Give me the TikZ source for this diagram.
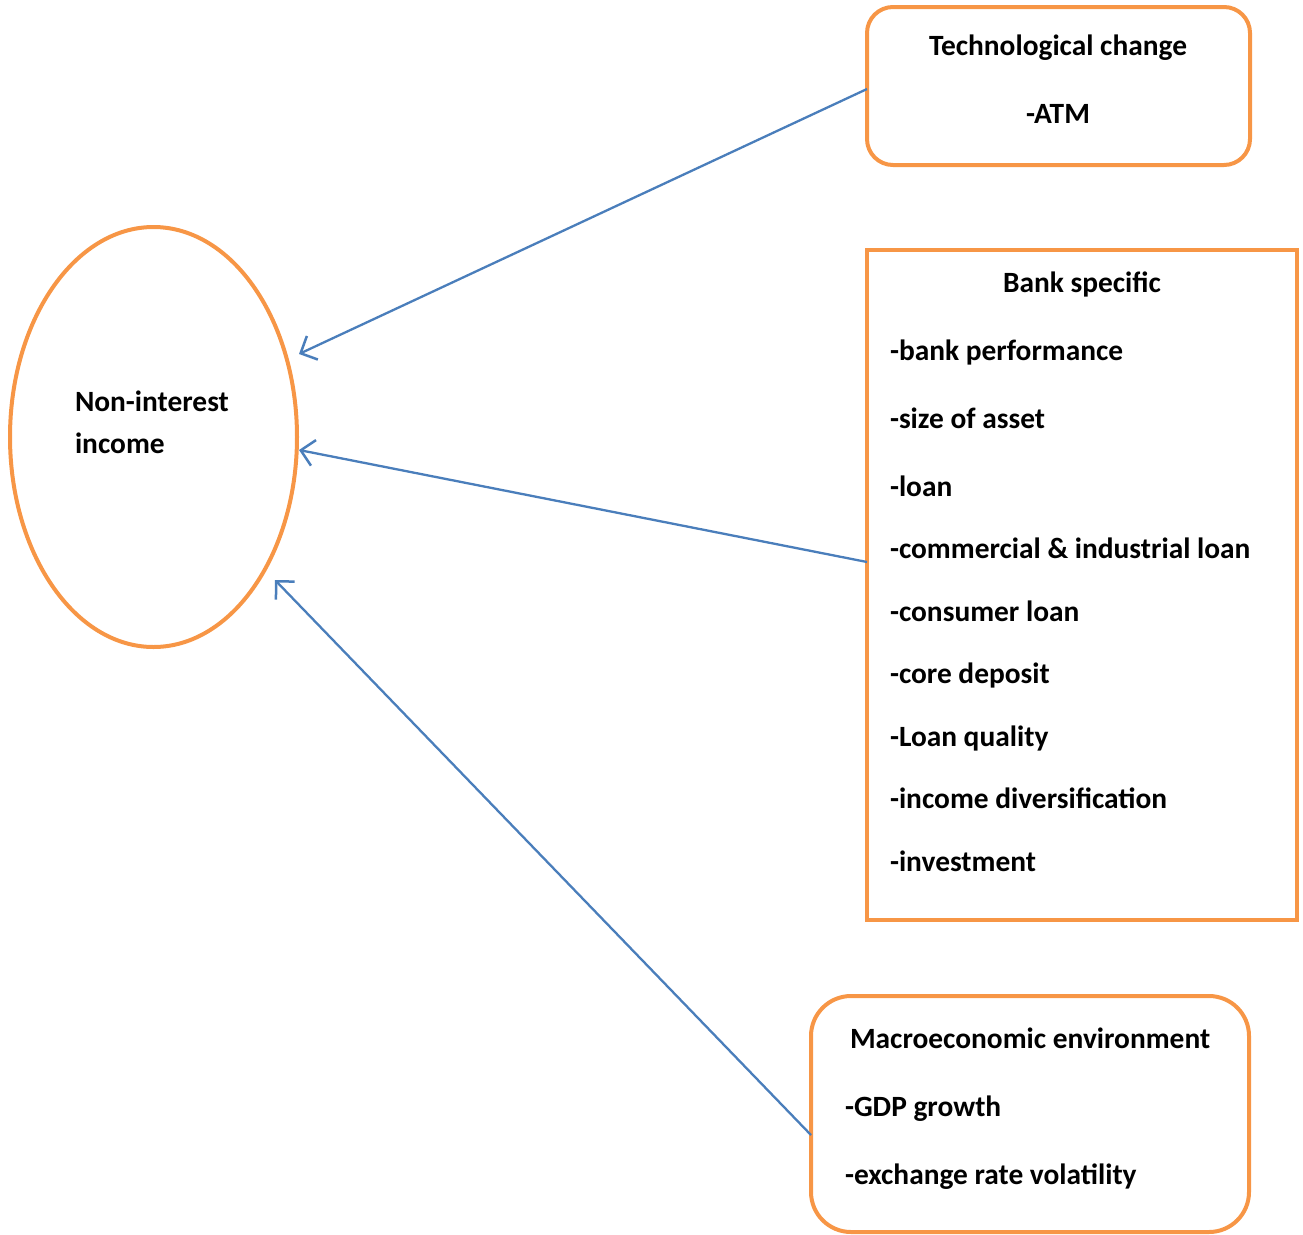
\documentclass[tikz,border=0pt]{standalone}
\usepackage{fontspec}
\setmainfont{Carlito}
\usetikzlibrary{shapes.geometric,arrows.meta}
\definecolor{boxorange}{HTML}{F79646}
\definecolor{arrowblue}{HTML}{4A7EBB}
\begin{document}
\begin{tikzpicture}[x=1pt,y=-1pt,
  frame/.style={draw=boxorange,line width=4pt,inner sep=0pt,outer sep=0pt},
  txt/.style={inner sep=0pt,outer sep=0pt,font=\bfseries\fontsize{29.4}{35}\selectfont},
  link/.style={draw=arrowblue,line width=2.3pt,-{Straight Barb[length=13pt,width=26pt,line width=2.5pt]}}]
\useasboundingbox (0,0) rectangle (1303,1234);
% shapes
\node[frame,ellipse,minimum width=287pt,minimum height=420pt] (nii) at (153.5,437) {};
\node[frame,rectangle,rounded corners=26pt,minimum width=383pt,minimum height=158pt] (tech) at (1058.5,86) {};
\node[frame,rectangle,minimum width=430pt,minimum height=670pt] (bank) at (1082,585) {};
\node[frame,rectangle,rounded corners=40pt,minimum width=438pt,minimum height=236pt] (macro) at (1030,1114) {};
% texts
\node[txt,anchor=base west] (n1) at (75,411) {Non-interest};
\node[txt,anchor=base west] (n2) at (75,453) {income};
\node[txt,anchor=base] (t1) at (1058,55) {Technological change};
\node[txt,anchor=base] (t2) at (1058,123) {-ATM};
\node[txt,anchor=base] (b0) at (1082,292) {Bank specific};
\node[txt,anchor=base west] (b1) at (890,360) {-bank performance};
\node[txt,anchor=base west] (b2) at (890,428) {-size of asset};
\node[txt,anchor=base west] (b3) at (890,496) {-loan};
\node[txt,anchor=base west] (b4) at (890,558) {-commercial \& industrial loan};
\node[txt,anchor=base west] (b5) at (890,621) {-consumer loan};
\node[txt,anchor=base west] (b6) at (890,683) {-core deposit};
\node[txt,anchor=base west] (b7) at (890,746) {-Loan quality};
\node[txt,anchor=base west] (b8) at (890,808) {-income diversification};
\node[txt,anchor=base west] (b9) at (890,871) {-investment};
\node[txt,anchor=base west] (m0) at (850,1048) {Macroeconomic environment};
\node[txt,anchor=base west] (m1) at (845,1116) {-GDP growth};
\node[txt,anchor=base west] (m2) at (845,1184) {-exchange rate volatility};
% arrow ends near the ellipse
\coordinate (e1) at (299,354);
\coordinate (e2) at (299,450);
\coordinate (e3) at (275,580);
\draw[link] ([yshift=-3pt]tech.west) -- (e1);
\draw[link] ([yshift=23pt]bank.west) -- (e2);
\draw[link] ([yshift=-21pt]macro.west) -- (e3);
\end{tikzpicture}
\end{document}
